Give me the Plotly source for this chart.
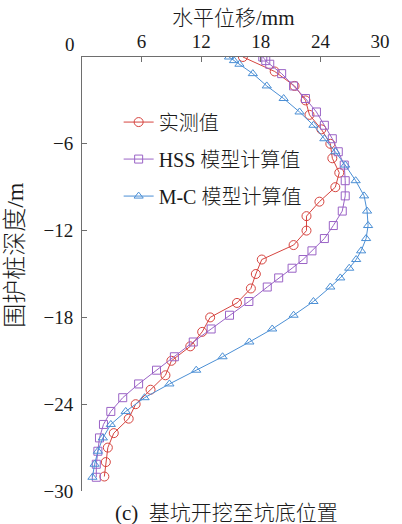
import plotly.graph_objects as go

# Measured wall deflection (mm) at 1 m depth intervals
measured_depth = [0, -1, -2, -3, -4, -5, -6, -7, -8, -9, -10, -11, -12, -13, -14,
                  -15, -16, -17, -18, -19, -20, -21, -22, -23, -24, -25, -26, -27, -28, -29]
measured_disp = [16.2, 19.4, 21.4, 22.5, 22.9, 24.1, 25.0, 25.2, 25.9, 25.5, 23.9, 22.6,
                 22.6, 21.3, 18.1, 17.5, 17.0, 15.6, 12.9, 12.1, 10.9, 9.0, 8.4, 6.9,
                 5.4, 4.7, 3.2, 2.6, 2.4, 2.25]

# Numerical model nodes (m)
model_depth = [0, -0.25, -0.5, -1.15, -2.0, -2.87, -3.8, -4.72, -5.65, -6.55, -7.47,
               -8.55, -9.6, -10.65, -11.65, -12.55, -13.4, -14.0, -14.6, -15.27, -15.9,
               -16.9, -17.85, -18.8, -19.7, -20.72, -21.65, -22.6, -23.55, -24.5, -25.4,
               -26.33, -27.25, -28.15, -29.05]
hss_disp = [18.2, 18.5, 18.9, 20.1, 21.3, 22.5, 23.6, 24.4, 25.2, 25.8, 26.4,
            26.5, 26.5, 26.2, 25.3, 24.4, 23.15, 22.25, 21.15, 19.8, 18.65,
            16.8, 14.85, 13.0, 11.2, 9.3, 7.5, 5.7, 4.1, 2.9, 2.16,
            1.76, 1.6, 1.44, 1.44]
mc_disp = [14.8, 15.3, 15.85, 17.2, 18.6, 20.3, 21.9, 23.3, 24.4, 25.5, 26.5,
           27.55, 28.4, 28.7, 28.8, 28.6, 28.1, 27.6, 26.9, 26.0, 25.0,
           23.3, 21.3, 19.15, 16.85, 14.15, 11.5, 8.8, 6.3, 4.4, 2.9,
           2.1, 1.6, 1.27, 1.05]

x_ticks = [0, 6, 12, 18, 24, 30]
y_ticks = [-6, -12, -18, -24, -30]

names = ["实测值", "HSS 模型计算值", "M-C 模型计算值"]
colors = ["#d6443f", "#9a63c6", "#4b8fd5"]

FONT = "Liberation Serif, Times New Roman, Noto Sans CJK SC, serif"
AXIS_GRAY = "#6e6e6e"

fig = go.Figure()
series = [
    (measured_disp, measured_depth, "circle-open", 9),
    (hss_disp, model_depth, "square-open", 8),
    (mc_disp, model_depth, "triangle-up-open", 8),
]
for i, (xs, ys, sym, sz) in enumerate(series):
    fig.add_trace(go.Scatter(
        x=xs, y=ys, mode="lines+markers", name=names[i], legendgroup=str(i),
        line=dict(color=colors[i], width=1),
        marker=dict(symbol=sym, size=sz, color=colors[i], line=dict(width=1, color=colors[i])),
    ))

fig.update_layout(
    width=402, height=524,
    margin=dict(l=82, r=14, t=57, b=33),
    paper_bgcolor="white", plot_bgcolor="white",
    font=dict(family=FONT, size=19, color="#1a1a1a", weight=300),
    showlegend=True,
    legend=dict(
        x=0.123, y=0.895, xanchor="left", yanchor="top",
        bgcolor="rgba(0,0,0,0)", font=dict(size=20, family=FONT, weight=300),
        tracegroupgap=8, itemwidth=30,
    ),
    xaxis=dict(
        side="top", range=[0, 30], tickvals=x_ticks,
        ticktext=[""] + [str(v) for v in x_ticks[1:]],
        ticks="inside", ticklen=5, tickcolor=AXIS_GRAY,
        showline=True, linecolor=AXIS_GRAY, linewidth=1,
        showgrid=False, zeroline=False, mirror=False,
    ),
    yaxis=dict(
        range=[-30, 0], tickvals=y_ticks,
        ticktext=["\u2212" + str(-v) for v in y_ticks],
        ticks="inside", ticklen=5, tickcolor=AXIS_GRAY,
        showline=True, linecolor=AXIS_GRAY, linewidth=1,
        showgrid=False, zeroline=False, mirror=False,
        ticklabelstandoff=4,
    ),
    annotations=[
        dict(text="水平位移/mm", xref="paper", yref="paper", x=0.51, y=1,
             xanchor="center", yanchor="middle", yshift=39, showarrow=False,
             font=dict(size=21, family=FONT, weight=300)),
        dict(text="0", xref="paper", yref="paper", x=0, y=1, xanchor="center",
             yanchor="middle", xshift=-12, yshift=13, showarrow=False,
             font=dict(size=19, family=FONT)),
        dict(text="围护桩深度/m", xref="paper", yref="paper", x=-0.225, y=0.544,
             xanchor="center", yanchor="middle", textangle=-90, showarrow=False,
             font=dict(size=24, family=FONT, weight=300)),
        dict(text="(c)  基坑开挖至坑底位置", xref="paper", yref="paper", x=0.484, y=0,
             xanchor="center", yanchor="middle", yshift=-22, showarrow=False,
             font=dict(size=21, family=FONT, weight=300)),
    ],
)

fig.write_html("out.html")
